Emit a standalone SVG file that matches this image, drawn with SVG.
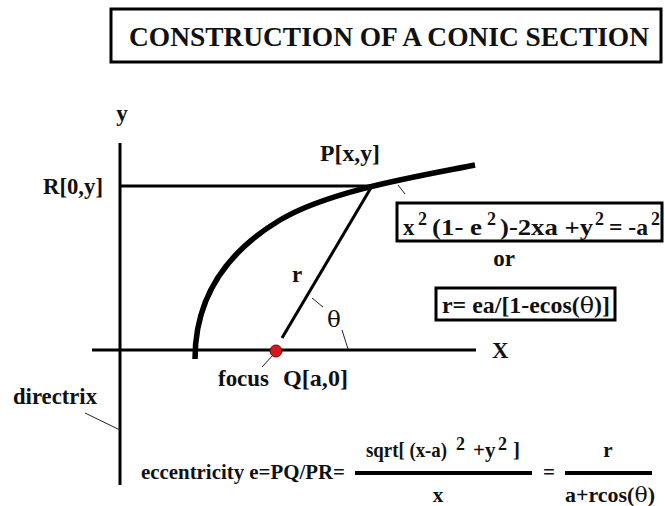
<svg xmlns="http://www.w3.org/2000/svg" width="665" height="506" viewBox="0 0 665 506">
<style>
.lbl{font-size:23px;}
.eq{font-size:23px;}
.sup{font-size:18px;}
.bq{font-size:21px;}
.ax{stroke:#000;stroke-width:3;fill:none;}
.thin{stroke:#222;stroke-width:1;fill:none;}
.box{fill:#fff;stroke:#000;stroke-width:3;}
</style>
<rect width="665" height="506" fill="#fff"/>
<g font-family="Liberation Serif, Times New Roman, serif" font-weight="bold" fill="#111">
<g id="title">
<rect class="box" x="111" y="9" width="550" height="53" stroke-width="4"/>
<text x="389" y="46" text-anchor="middle" font-size="27" textLength="520" lengthAdjust="spacingAndGlyphs">CONSTRUCTION OF A CONIC SECTION</text>
</g>
<g id="axes">
<line class="ax" x1="120" y1="143" x2="120" y2="485"/>
<line class="ax" x1="92" y1="350" x2="476" y2="350"/>
<text class="lbl" x="122" y="121" text-anchor="middle">y</text>
<text class="lbl" x="492" y="358">X</text>
</g>
<g id="curve">
<path d="M195,359 C195,290 235,247 280,220 C330,190 425,175 475,165" fill="none" stroke="#000" stroke-width="5.5"/>
</g>
<g id="connectors">
<line class="ax" x1="120" y1="186" x2="372" y2="186"/>
<line class="ax" x1="372" y1="186" x2="282" y2="338"/>
<line class="thin" x1="398" y1="185" x2="405" y2="194"/>
<line class="thin" x1="312" y1="298" x2="323" y2="307"/>
<line class="thin" x1="342" y1="330" x2="348" y2="349"/>
<line class="thin" x1="274" y1="354" x2="262" y2="367"/>
<line class="thin" x1="85" y1="413" x2="120" y2="430"/>
</g>
<g id="focus">
<circle cx="276" cy="351" r="6" fill="#d4181e" stroke="#7a0000" stroke-width="1"/>
<text class="lbl" x="218" y="386" textLength="51" lengthAdjust="spacingAndGlyphs">focus</text>
<text class="lbl" x="283" y="386" textLength="65" lengthAdjust="spacingAndGlyphs">Q[a,0]</text>
</g>
<g id="point-R">
<text class="lbl" x="43" y="194" textLength="60" lengthAdjust="spacingAndGlyphs">R[0,y]</text>
</g>
<g id="point-P">
<text class="lbl" x="320" y="161" textLength="60" lengthAdjust="spacingAndGlyphs">P[x,y]</text>
</g>
<g id="label-r">
<text class="lbl" x="297" y="282" text-anchor="middle">r</text>
</g>
<g id="label-theta">
<text x="334" y="327" text-anchor="middle" font-size="23" font-family="DejaVu Serif, serif" font-weight="normal">θ</text>
</g>
<g id="directrix">
<text class="lbl" x="13" y="404" textLength="84" lengthAdjust="spacingAndGlyphs">directrix</text>
</g>
<g id="equation-box">
<rect class="box" x="397" y="203" width="265" height="38"/>
<text class="eq" x="403" y="235" font-size="25">x</text>
<text class="sup" x="418" y="225">2</text>
<text class="eq" x="432" y="235" font-size="25" textLength="50" lengthAdjust="spacingAndGlyphs">(1- e</text>
<text class="sup" x="487" y="225">2</text>
<text class="eq" x="500" y="235" font-size="25" textLength="93" lengthAdjust="spacingAndGlyphs">)-2xa +y</text>
<text class="sup" x="595" y="225">2</text>
<text class="eq" x="609" y="235" font-size="19" textLength="39" lengthAdjust="spacingAndGlyphs">= -a</text>
<text class="sup" x="651" y="225">2</text>
</g>
<g id="or">
<text class="eq" x="504" y="266" text-anchor="middle">or</text>
</g>
<g id="polar-box">
<rect class="box" x="436" y="288" width="179" height="32"/>
<text class="eq" x="442" y="313" textLength="168" lengthAdjust="spacingAndGlyphs">r= ea/[1-ecos(<tspan font-family="DejaVu Serif, serif" font-weight="normal">θ</tspan>)]</text>
</g>
<g id="eccentricity">
<text class="bq" x="141" y="479" textLength="204" lengthAdjust="spacingAndGlyphs">eccentricity e=PQ/PR=</text>
<line x1="355" y1="473" x2="532" y2="473" stroke="#000" stroke-width="4"/>
<text class="bq" x="366" y="457" textLength="81" lengthAdjust="spacingAndGlyphs">sqrt[ (x-a)</text>
<text class="sup" x="456" y="450">2</text>
<text class="bq" x="473" y="457">+y</text>
<text class="sup" x="498" y="450">2</text>
<text class="bq" x="513" y="457">]</text>
<text class="bq" x="438" y="502" text-anchor="middle">x</text>
<text class="bq" x="549" y="479" text-anchor="middle">=</text>
<line x1="565" y1="473" x2="652" y2="473" stroke="#000" stroke-width="4"/>
<text class="bq" x="608" y="457" text-anchor="middle">r</text>
<text class="bq" x="565" y="502" textLength="90" lengthAdjust="spacingAndGlyphs">a+rcos(<tspan font-family="DejaVu Serif, serif" font-weight="normal">θ</tspan>)</text>
</g>
</g>
</svg>
